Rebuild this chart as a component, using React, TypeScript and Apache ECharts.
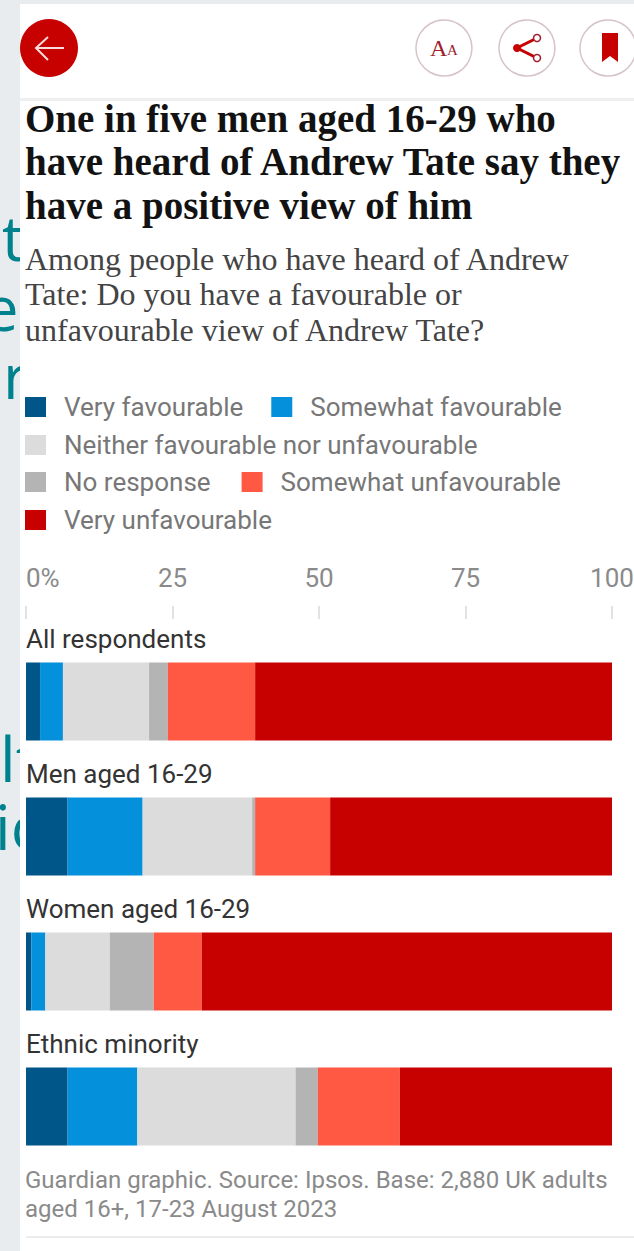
import React, { useEffect, useRef } from "react";
import * as echarts from "echarts";

const categories = ["All respondents", "Men aged 16-29", "Women aged 16-29", "Ethnic minority"];
const veryFavourable = [2.4, 7.1, 0.9, 7.1];
const somewhatFavourable = [3.9, 12.8, 2.4, 11.9];
const neither = [14.7, 18.7, 11, 27];
const noResponse = [3.2, 0.5, 7.5, 3.8];
const somewhatUnfavourable = [14.9, 12.8, 8.2, 14];
const veryUnfavourable = [60.9, 48.1, 70, 36.2];

const seriesNames = [
  "Very favourable",
  "Somewhat favourable",
  "Neither favourable nor unfavourable",
  "No response",
  "Somewhat unfavourable",
  "Very unfavourable",
];
const seriesValues = [veryFavourable, somewhatFavourable, neither, noResponse, somewhatUnfavourable, veryUnfavourable];
const seriesColours = ["#005689", "#0590dc", "#dcdcdc", "#b4b4b4", "#ff5943", "#c70000"];
const legendRows = [
  { names: seriesNames.slice(0, 2), top: 394, gap: 28 },
  { names: seriesNames.slice(2, 3), top: 432, gap: 28 },
  { names: seriesNames.slice(3, 5), top: 469, gap: 31 },
  { names: seriesNames.slice(5, 6), top: 507, gap: 28 },
];

const headlineLines = ["One in five men aged 16-29 who", "have heard of Andrew Tate say they", "have a positive view of him"];
const standfirstLines = ["Among people who have heard of Andrew", "Tate: Do you have a favourable or", "unfavourable view of Andrew Tate?"];
const sourceLines = ["Guardian graphic. Source: Ipsos. Base: 2,880 UK adults", "aged 16+, 17-23 August 2023"];
// Page copy that shows in the narrow margin beside the article panel.
const marginWords = [
  { t: "nt", right: 24, baseline: 261 },
  { t: "es", right: 48, baseline: 331 },
  { t: "r", left: 3, baseline: 399 },
  { t: "lt", left: 0, baseline: 782 },
  { t: "ic", left: -5, baseline: 850 },
];

const SERIF = "'Liberation Serif', serif";
const SANS = "Roboto, 'Noto Sans', sans-serif";
const RED = "#c70000";
const RING = "#d8c4c8";
const DARK_RED = "#a01c2c";

function buildGraphics() {
  const els: any[] = [];
  els.push({ type: "rect", z: -2, shape: { x: 20, y: 4, width: 614, height: 1247 }, style: { fill: "#ffffff" } });
  els.push({ type: "rect", z: -1, shape: { x: 20, y: 98, width: 614, height: 3 }, style: { fill: "#efefef" } });
  els.push({ type: "line", z: -1, shape: { x1: 26, y1: 1237, x2: 634, y2: 1237 }, style: { stroke: "#ececec", lineWidth: 2 } });

  // back button
  els.push({ type: "circle", shape: { cx: 49, cy: 48, r: 29 }, style: { fill: RED } });
  els.push({ type: "polyline", shape: { points: [[48, 37], [36, 48], [48, 60]] }, style: { stroke: "#f6dcdc", fill: "none", lineWidth: 2 } });
  els.push({ type: "line", shape: { x1: 36, y1: 48, x2: 64, y2: 48 }, style: { stroke: "#f6dcdc", lineWidth: 2 } });

  // round toolbar buttons
  [444, 527, 608].forEach((cx) =>
    els.push({ type: "circle", shape: { cx, cy: 48, r: 28 }, style: { fill: "#ffffff", stroke: RING, lineWidth: 1.5 } })
  );
  els.push({ type: "text", x: 430, y: 48, style: { text: "A", fill: DARK_RED, font: "24px " + SERIF, textVerticalAlign: "middle" } });
  els.push({ type: "text", x: 447, y: 50, style: { text: "A", fill: DARK_RED, font: "15px " + SERIF, textVerticalAlign: "middle" } });
  els.push({ type: "polyline", shape: { points: [[537, 38], [517, 48], [537, 58]] }, style: { stroke: RED, fill: "none", lineWidth: 3 } });
  els.push({ type: "circle", shape: { cx: 517, cy: 48, r: 4 }, style: { fill: RED } });
  els.push({ type: "circle", shape: { cx: 537, cy: 38, r: 3.5 }, style: { fill: "#ffffff", stroke: DARK_RED, lineWidth: 1.5 } });
  els.push({ type: "circle", shape: { cx: 537, cy: 58, r: 3.5 }, style: { fill: "#ffffff", stroke: DARK_RED, lineWidth: 1.5 } });
  els.push({ type: "polygon", shape: { points: [[602, 33], [618, 33], [618, 62], [610, 56], [602, 62]] }, style: { fill: RED } });

  headlineLines.forEach((t, i) =>
    els.push({ type: "text", x: 25, y: 118 + i * 43.5, style: { text: t, fill: "#121212", font: "bold 39px " + SERIF, textVerticalAlign: "middle" } })
  );
  standfirstLines.forEach((t, i) =>
    els.push({ type: "text", x: 25, y: 258.5 + i * 35.5, style: { text: t, fill: "#444444", font: "32px " + SERIF, textVerticalAlign: "middle" } })
  );
  sourceLines.forEach((t, i) =>
    els.push({ type: "text", x: 25, y: 1180 + i * 29, style: { text: t, fill: "#8a8a8a", font: "24px " + SANS, textVerticalAlign: "middle" } })
  );
  return els;
}

export default function App() {
  const ref = useRef<HTMLDivElement>(null);
  useEffect(() => {
    const chart = echarts.init(ref.current!, undefined, { renderer: "svg" });
    chart.setOption({
      animation: false,
      backgroundColor: "transparent",
      grid: { left: 26, width: 586, top: 634, height: 540, outerBoundsMode: "none" },
      legend: legendRows.map((row) => ({
        data: row.names,
        left: 25,
        top: row.top,
        padding: 0,
        itemWidth: 21,
        itemHeight: 20,
        itemGap: row.gap,
        icon: "rect",
        selectedMode: false,
        textStyle: { fontFamily: SANS, fontSize: 26, color: "#777777", padding: [0, 0, 0, 13] },
      })),
      xAxis: {
        type: "value",
        position: "top",
        offset: 15,
        min: 0,
        max: 100,
        interval: 25,
        splitLine: { show: false },
        axisLine: { show: false },
        axisTick: { show: true, length: 13, lineStyle: { color: "#e2e2e2", width: 2 } },
        axisLabel: {
          margin: 28,
          fontFamily: SANS,
          fontSize: 26,
          color: "#8a8a8a",
          alignMinLabel: "left",
          showMinLabel: true,
          showMaxLabel: true,
          formatter: (v: number) => (v === 0 ? "0%" : String(v)),
        },
      },
      yAxis: {
        type: "category",
        inverse: true,
        data: categories,
        axisLine: { show: false },
        axisTick: { show: false },
        axisLabel: {
          inside: true,
          margin: 0,
          align: "left",
          formatter: (v: string) => `{name|${v}}`,
          rich: {
            name: { fontFamily: SANS, fontSize: 26, color: "#333333", padding: [0, 0, 125, 0] },
          },
        },
      },
      series: seriesNames.map((name, i) => ({
        name,
        type: "bar",
        stack: "views",
        barWidth: 78,
        itemStyle: { color: seriesColours[i] },
        data: seriesValues[i],
      })),
      graphic: buildGraphics(),
    });
    return () => chart.dispose();
  }, []);
  return (
    <div style={{ position: "absolute", left: 0, top: 0, width: 634, height: 1251, background: "#e9ecef", overflow: "hidden" }}>
      <div style={{ position: "absolute", left: 0, top: 0, width: 20, height: 1251, overflow: "hidden" }}>
        {marginWords.map((w) => (
          <span
            key={w.t}
            style={{
              position: "absolute",
              top: w.baseline - 55,
              left: w.left,
              right: w.right !== undefined ? 20 - w.right : undefined,
              font: "62px/62px 'Open Sans', sans-serif",
              color: "#00828e",
              whiteSpace: "nowrap",
            }}
          >
            {w.t}
          </span>
        ))}
      </div>
      <div ref={ref} style={{ position: "absolute", left: 0, top: 0, width: 634, height: 1251 }} />
    </div>
  );
}
